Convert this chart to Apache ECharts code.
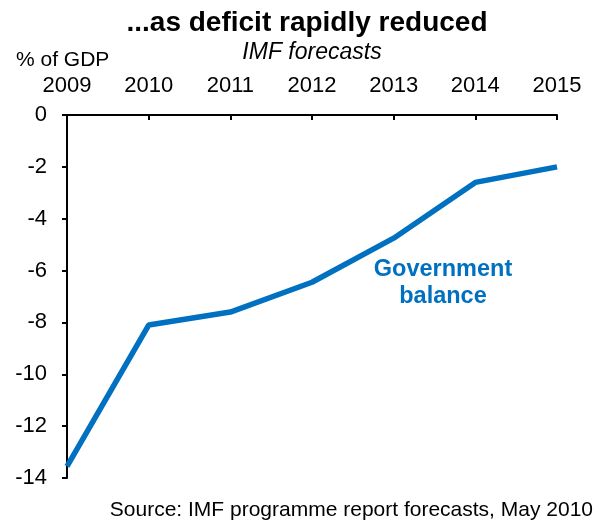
<!DOCTYPE html>
<html><head><meta charset="utf-8">
<script src="https://cdn.jsdelivr.net/npm/echarts@6/dist/echarts.min.js"></script>
<style>html,body{margin:0;padding:0;background:#fff}#c{width:602px;height:526px}</style>
</head><body><div id="c"></div>
<script>
var years = ['2009','2010','2011','2012','2013','2014','2015'];
var govBalance = [-13.55, -8.1, -7.6, -6.45, -4.75, -2.6, -2.0];
var yTicks = {min: -14, max: 0, interval: 2};
var FONT = '"Liberation Sans", Arial, sans-serif';
var BLUE = '#0070C0';
var chart = echarts.init(document.getElementById('c'));
chart.setOption({
  animation: false,
  textStyle: {fontFamily: FONT},
  title: [
    {text: '...as deficit rapidly reduced', left: 302, top: 4, textAlign: 'center',
     textStyle: {fontFamily: FONT, fontSize: 28, fontWeight: 'bold', color: '#000'}},
    {text: 'IMF forecasts', left: 307, top: 36, textAlign: 'center',
     textStyle: {fontFamily: FONT, fontSize: 23, fontStyle: 'italic', fontWeight: 'normal', color: '#000'}},
    {text: '% of GDP', left: 11, top: 45,
     textStyle: {fontFamily: FONT, fontSize: 21, fontWeight: 'normal', color: '#000'}},
    {text: 'Source: IMF programme report forecasts, May 2010', right: 4, top: 495,
     textStyle: {fontFamily: FONT, fontSize: 21, fontWeight: 'normal', color: '#000'}}
  ],
  grid: {left: 67, right: 45, top: 115, bottom: 48},
  xAxis: {
    type: 'category', data: years, position: 'top', boundaryGap: false,
    axisLine: {show: true, onZero: false, lineStyle: {color: '#000', width: 2}},
    axisTick: {show: true, inside: true, length: 5, lineStyle: {color: '#000', width: 2}},
    axisLabel: {color: '#000', fontSize: 22, margin: 18, fontFamily: FONT},
    splitLine: {show: false}
  },
  yAxis: {
    type: 'value', min: yTicks.min, max: yTicks.max, interval: yTicks.interval,
    axisLine: {show: true, lineStyle: {color: '#000', width: 2}},
    axisTick: {show: true, length: 5, lineStyle: {color: '#000', width: 2}},
    axisLabel: {color: '#000', fontSize: 22, margin: 20, fontFamily: FONT},
    splitLine: {show: false}
  },
  series: [{
    type: 'line', data: govBalance, symbol: 'none',
    lineStyle: {color: BLUE, width: 5.5},
    clip: false
  }],
  graphic: [
    {type: 'text', x: 443, y: 270,
     style: {text: 'Government', fill: BLUE, font: 'bold 23.5px ' + FONT, textAlign: 'center', textVerticalAlign: 'middle'}},
    {type: 'text', x: 443, y: 297,
     style: {text: 'balance', fill: BLUE, font: 'bold 23.5px ' + FONT, textAlign: 'center', textVerticalAlign: 'middle'}}
  ]
});
</script></body></html>
